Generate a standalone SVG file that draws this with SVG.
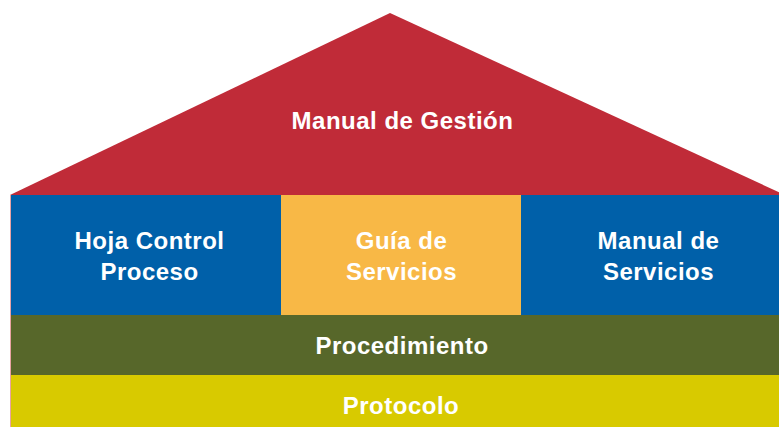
<svg xmlns="http://www.w3.org/2000/svg" width="779" height="427" viewBox="0 0 779 427">
<style>
.t{font-family:"Liberation Sans",Arial,Helvetica,sans-serif;font-weight:bold;font-size:24px;letter-spacing:0.5px;fill:#ffffff;text-anchor:middle}
</style>
<rect x="0" y="0" width="779" height="427" fill="#ffffff"/>
<g id="manual-gestion">
<polygon points="10,195 390,13 785,195" fill="#c02b38"/>
<text class="t" x="402.5" y="129">Manual de Gestión</text>
</g>
<g id="hoja-control">
<rect x="11" y="195" width="270" height="120" fill="#0060a9"/>
<text class="t" x="149.5" y="249">Hoja Control</text>
<text class="t" x="149.5" y="280">Proceso</text>
</g>
<g id="guia-servicios">
<rect x="281" y="195" width="240" height="120" fill="#f8b846"/>
<text class="t" x="401.5" y="249">Guía de</text>
<text class="t" x="401.5" y="280">Servicios</text>
</g>
<g id="manual-servicios">
<rect x="521" y="195" width="258" height="120" fill="#0060a9"/>
<text class="t" x="658.5" y="249">Manual de</text>
<text class="t" x="658.5" y="280">Servicios</text>
</g>
<g id="procedimiento">
<rect x="11" y="315" width="768" height="60" fill="#57672a"/>
<text class="t" x="402" y="354">Procedimiento</text>
</g>
<g id="protocolo">
<rect x="11" y="375" width="768" height="52" fill="#d8ca00"/>
<text class="t" x="401" y="414">Protocolo</text>
</g>
<g id="connectors"/>
<line x1="10.5" y1="195" x2="10.5" y2="427" stroke="#e9a3a3" stroke-width="1"/>
</svg>
